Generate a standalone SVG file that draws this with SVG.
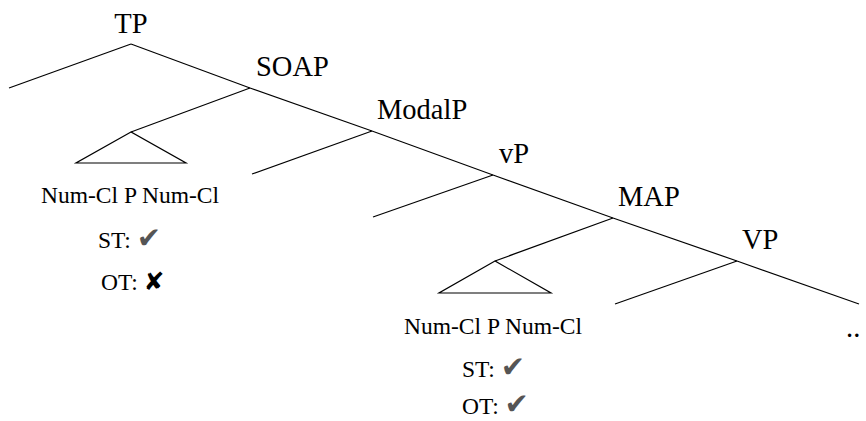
<svg xmlns="http://www.w3.org/2000/svg" width="866" height="421" viewBox="0 0 866 421">
<style>
.lbl{font-family:"Liberation Serif","Times New Roman",serif;font-size:28.5px;fill:#000}
.sm{font-family:"Liberation Serif","Times New Roman",serif;font-size:23.5px;fill:#000}
.ck{font-family:"DejaVu Sans",sans-serif;font-size:29px;fill:#555}
.xx{font-family:"DejaVu Sans",sans-serif;font-size:25px;fill:#000}
line,polygon{stroke:#000;stroke-width:1.2;fill:none}
</style>
<rect width="866" height="421" fill="#fff"/>
<g id="connectors">
<line x1="131" y1="44" x2="9" y2="88"/>
<line x1="131" y1="44" x2="250" y2="88"/>
<line x1="250" y1="88" x2="372" y2="131"/>
<line x1="372" y1="131" x2="493" y2="175"/>
<line x1="493" y1="175" x2="613" y2="218"/>
<line x1="613" y1="218" x2="737" y2="261"/>
<line x1="737" y1="261" x2="859" y2="304"/>
<line x1="250" y1="88" x2="131" y2="132"/>
<line x1="372" y1="131" x2="252" y2="174"/>
<line x1="493" y1="175" x2="373" y2="217"/>
<line x1="613" y1="218" x2="495" y2="261"/>
<line x1="737" y1="261" x2="615" y2="304"/>
</g>
<g id="TP"><text class="lbl" x="131" y="33" text-anchor="middle">TP</text></g>
<g id="SOAP"><text class="lbl" x="256" y="76">SOAP</text></g>
<g id="ModalP"><text class="lbl" x="377" y="119">ModalP</text></g>
<g id="vP"><text class="lbl" x="499" y="163">vP</text></g>
<g id="MAP"><text class="lbl" x="618" y="206">MAP</text></g>
<g id="VP"><text class="lbl" x="742" y="249">VP</text></g>
<g id="ellipsis"><text class="lbl" x="846" y="337">..</text></g>
<g id="tri1">
<polygon points="131,132 76,163 186,163"/>
<text class="sm" x="130" y="203" text-anchor="middle">Num-Cl P Num-Cl</text>
<text class="sm" x="98" y="248">ST: <tspan class="ck">✔</tspan></text>
<text class="sm" x="101" y="290">OT: <tspan class="xx">✘</tspan></text>
</g>
<g id="tri2">
<polygon points="495,261 439,293 551,293"/>
<text class="sm" x="493" y="334" text-anchor="middle">Num-Cl P Num-Cl</text>
<text class="sm" x="462" y="377">ST: <tspan class="ck">✔</tspan></text>
<text class="sm" x="462" y="414">OT: <tspan class="ck">✔</tspan></text>
</g>
</svg>
